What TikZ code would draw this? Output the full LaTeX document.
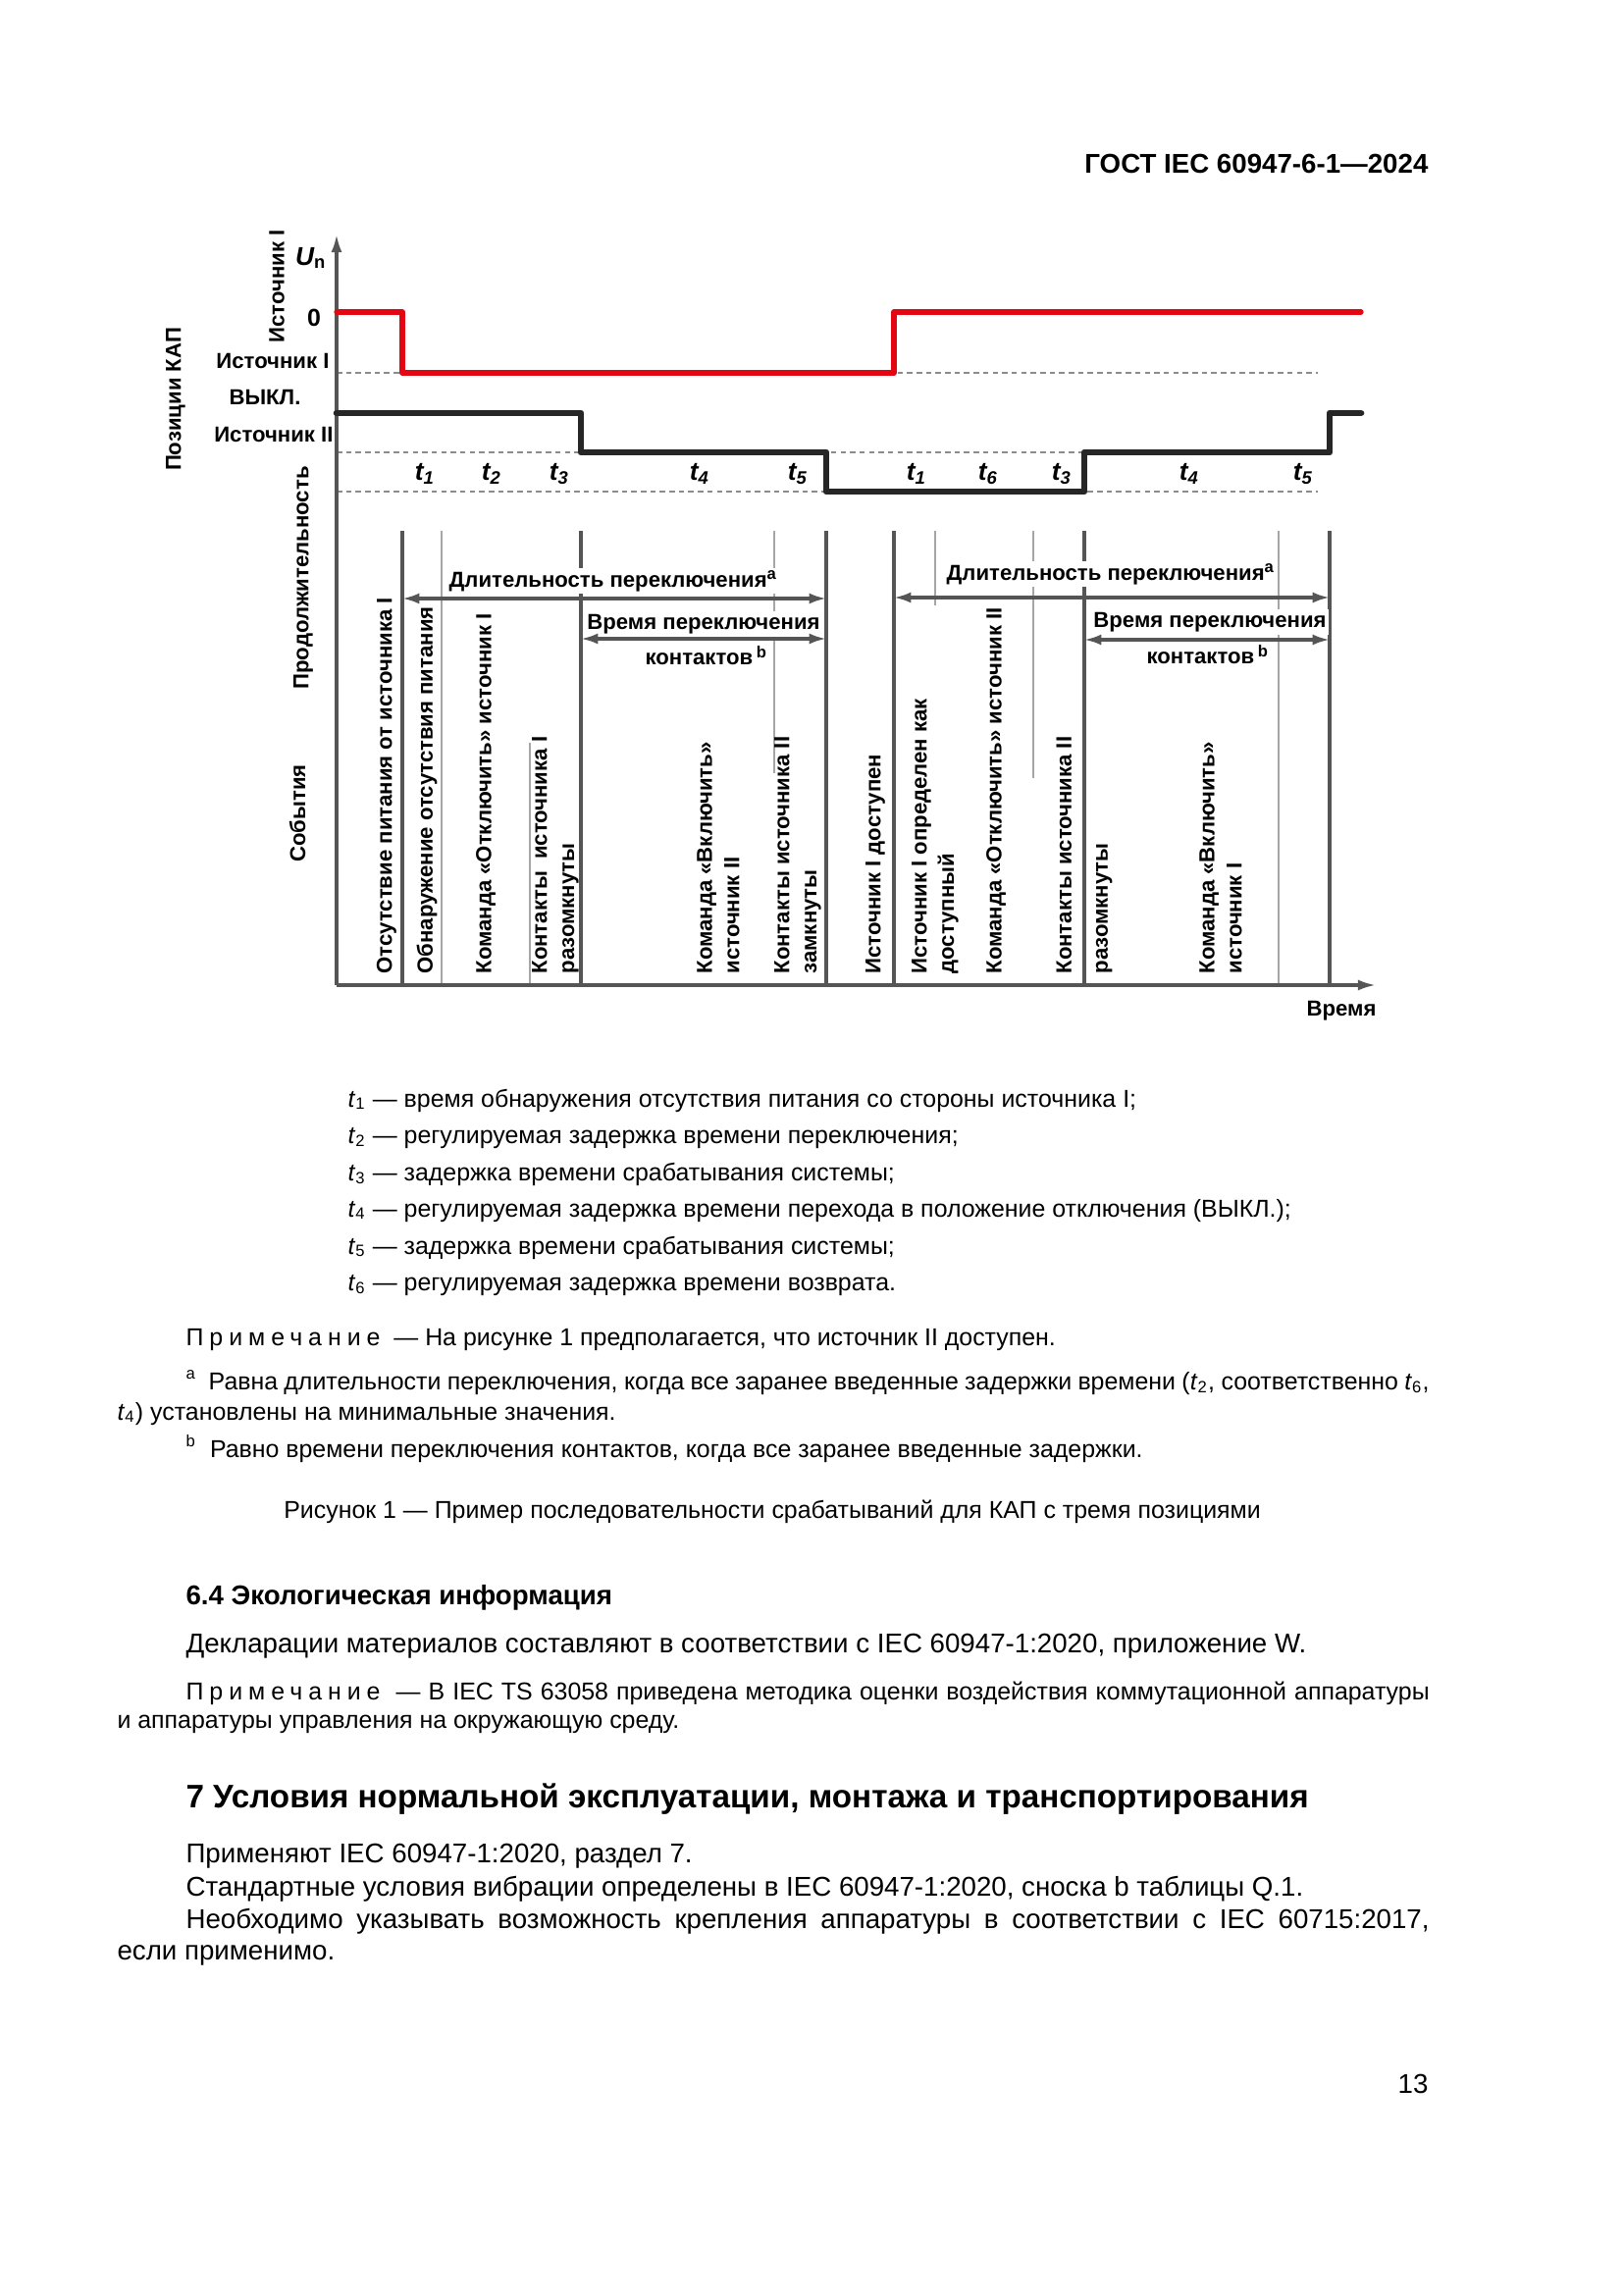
\documentclass[tikz,border=0pt]{standalone}
\usepackage{fontspec}
\setmainfont{Liberation Sans}
\usetikzlibrary{arrows.meta,positioning}
\definecolor{sourcered}{HTML}{E30613}
\definecolor{switchblack}{HTML}{262626}
\definecolor{linegray}{HTML}{555555}
\newcommand{\tlab}[1]{\textit{t}\textsubscript{#1}}
\newcommand{\spaced}[1]{{\addfontfeature{LetterSpace=24}#1}}

\begin{document}
\begin{tikzpicture}[x=0.12697mm, y=-0.12697mm,
    fig/.style={font=\bfseries\fontsize{8}{10}\selectfont, inner sep=0pt},
    event/.style={fig, rotate=90, anchor=west, align=left},
    tmark/.style={font=\bfseries\itshape\fontsize{9.5}{10}\selectfont, inner sep=0pt},
    dimtext/.style={fig, fill=white, inner sep=1pt},
    axis/.style={linegray, line width=1.1pt, -{Latex[length=2.3mm, width=1.4mm]}},
    major/.style={linegray, line width=1.1pt},
    minor/.style={black!35, line width=0.4pt},
    guide/.style={black!45, line width=0.4pt, dash pattern=on 2pt off 1.5pt},
    dim/.style={linegray, line width=1.1pt,
                {Latex[length=2.2mm, width=1.4mm]}-{Latex[length=2.2mm, width=1.4mm]}},
    body/.style={font=\fontsize{10}{12}\selectfont, inner sep=0pt, anchor=base west},
    small/.style={font=\fontsize{9}{11.2}\selectfont, inner sep=0pt, anchor=base west},
    legend/.style={font=\fontsize{9}{11}\selectfont, inner sep=0pt, anchor=base west},
    smallpara/.style={small, text width=169.76mm, align=justify},
    bodypara/.style={body, text width=169.76mm, align=justify},
    head/.style={font=\bfseries\fontsize{10}{12}\selectfont, inner sep=0pt, anchor=base west}
]
\fill[white] (0,0) rectangle (1654,2339);
\useasboundingbox (0,0) rectangle (1654,2339);

\node[font=\bfseries\fontsize{10}{12}\selectfont, inner sep=0pt, anchor=base east]
    (header) at (1456,176) {ГОСТ IEC 60947-6-1—2024};

% switch position levels
\draw[guide] (343,380) -- (1343,380);
\draw[guide] (343,461) -- (1343,461);
\draw[guide] (343,501) -- (1343,501);

% event lines
\draw[minor] (450,541) -- (450,1004);
\draw[minor] (540,757) -- (540,1004);
\draw[minor] (789,541) -- (789,788);
\draw[minor] (953,541) -- (953,617);
\draw[minor] (1053,541) -- (1053,793);
\draw[minor] (1303,541) -- (1303,1004);
\foreach \x in {410,592,842,911,1105,1355}
  \draw[major] (\x,541) -- (\x,1004);

\coordinate (origin) at (343,1004);
\coordinate (ytip) at (343,239);
\coordinate (xtip) at (1402,1004);
\draw[axis] (origin) -- (ytip);
\draw[axis] (origin) -- (xtip);

\draw[sourcered, line width=1.9pt, line cap=round, line join=round]
  (343,318) -- (410,318) -- (410,380) -- (911,380) -- (911,318) -- (1387,318);
\draw[switchblack, line width=2.4pt, line cap=round, line join=round]
  (343,421) -- (592,421) -- (592,461) -- (842,461) -- (842,501) -- (1105,501)
  -- (1105,461) -- (1355,461) -- (1355,421) -- (1387,421);

% axis labels
\node[fig, rotate=90] (positions) at (179,407) {Позиции КАП};
\node[fig, rotate=90] (srcaxis) at (282,292) {Источник I};
\node[tmark] (un) at (317,263) {U\textsubscript{\upshape n}};
\node[fig, font=\bfseries\fontsize{9}{10}\selectfont] (zero) at (320,324) {0};
\node[fig, anchor=east] (posI) at (336,368) {Источник I};
\node[fig] (posoff) at (270,405) {ВЫКЛ.};
\node[fig, anchor=east] (posII) at (340,443) {Источник II};
\node[fig, rotate=90] (duration) at (309,589) {Продолжительность};
\node[fig, rotate=90] (events) at (303,829) {События};
\node[fig] (timelabel) at (1367,1030) {Время};

% delays
\node[tmark] (ta1) at (433,483) {t\textsubscript{1}};
\node[tmark] (ta2) at (501,483) {t\textsubscript{2}};
\node[tmark] (ta3) at (570,483) {t\textsubscript{3}};
\node[tmark] (ta4) at (713,483) {t\textsubscript{4}};
\node[tmark] (ta5) at (813,483) {t\textsubscript{5}};
\node[tmark] (tb1) at (934,483) {t\textsubscript{1}};
\node[tmark] (tb6) at (1007,483) {t\textsubscript{6}};
\node[tmark] (tb3) at (1082,483) {t\textsubscript{3}};
\node[tmark] (tb4) at (1212,483) {t\textsubscript{4}};
\node[tmark] (tb5) at (1328,483) {t\textsubscript{5}};

% events
\node[event] (ev1) at (394,993) {Отсутствие питания от источника I};
\node[event] (ev2) at (435,993) {Обнаружение отсутствия питания};
\node[event] (ev3) at (495,993) {Команда «Отключить» источник I};
\node[event] (ev4) at (566,993) {Контакты\ \ источника I\\разомкнуты};
\node[event] (ev5) at (732,993) {Команда «Включить»\\источник II};
\node[event] (ev6) at (813,993) {Контакты источника II\\замкнуты};
\node[event] (ev7) at (892,993) {Источник I доступен};
\node[event] (ev8) at (953,993) {Источник I определен как\\доступный};
\node[event] (ev9) at (1015,993) {Команда «Отключить» источник II};
\node[event] (ev10) at (1105,993) {Контакты источника II\\[1.2mm]разомкнуты};
\node[event] (ev11) at (1244,993) {Команда «Включить»\\источник I};

% transfer times
\node[dimtext] (swItext) at (625,592) {Длительность переключения\textsuperscript{a}};
\node[dimtext] (ctItext) at (717,636) {Время переключения};
\node[fig] (ctIsub) at (720,668) {контактов\,\textsuperscript{b}};
\node[dimtext] (swIItext) at (1132,585) {Длительность переключения\textsuperscript{a}};
\node[dimtext] (ctIItext) at (1233,634) {Время переключения};
\node[fig] (ctIIsub) at (1231,667) {контактов\,\textsuperscript{b}};

\coordinate (swIa) at (410,610);
\coordinate (swIb) at (842,610);
\coordinate (ctIa) at (592,651);
\coordinate (ctIb) at (842,651);
\coordinate (swIIa) at (911,609);
\coordinate (swIIb) at (1355,609);
\coordinate (ctIIa) at (1105,652);
\coordinate (ctIIb) at (1355,652);
\draw[dim] (swIa) -- (swIb);
\draw[dim] (ctIa) -- (ctIb);
\draw[dim] (swIIa) -- (swIIb);
\draw[dim] (ctIIa) -- (ctIIb);

% key
\node[legend] (key1) at (354,1128) {\tlab{1} — время обнаружения отсутствия питания со стороны источника I;};
\node[legend] (key2) at (354,1165) {\tlab{2} — регулируемая задержка времени переключения;};
\node[legend] (key3) at (354,1203) {\tlab{3} — задержка времени срабатывания системы;};
\node[legend] (key4) at (354,1240) {\tlab{4} — регулируемая задержка времени перехода в положение отключения (ВЫКЛ.);};
\node[legend] (key5) at (354,1278) {\tlab{5} — задержка времени срабатывания системы;};
\node[legend] (key6) at (354,1315) {\tlab{6} — регулируемая задержка времени возврата.};

\node[small] (note1) at (189,1371) {\spaced{Примечание}\ \ — На рисунке 1 предполагается, что источник II доступен.};
\node[smallpara] (fna) at (119,1416) {\hspace*{8.89mm}\textsuperscript{a}\ \ Равна длительности переключения, когда все заранее введенные задержки времени (\tlab{2}, соответственно \tlab{6},\linebreak \tlab{4}) установлены на минимальные значения.};
\node[small] (fnb) at (189,1485) {\textsuperscript{b}\ \ Равно времени переключения контактов, когда все заранее введенные задержки.};
\node[small, anchor=base] (caption) at (787,1547) {Рисунок 1 — Пример последовательности срабатываний для КАП с тремя позициями};

% text below
\node[head] (sec64) at (189,1635) {6.4 Экологическая информация};
\node[body] (decl) at (189,1684) {Декларации материалов составляют в соответствии с IEC 60947-1:2020, приложение W.};
\node[smallpara, font=\fontsize{9}{10.8}\selectfont] (note2) at (119,1732) {\hspace*{8.89mm}\spaced{Примечание}\ \ — В IEC TS 63058 приведена методика оценки воздействия коммутационной аппаратуры\linebreak и аппаратуры управления на окружающую среду.};
\node[head, font=\bfseries\fontsize{12}{14}\selectfont] (sec7) at (189,1842) {7 Условия нормальной эксплуатации, монтажа и транспортирования};
\node[body] (apply) at (189,1898) {Применяют IEC 60947-1:2020, раздел 7.};
\node[body] (vibr) at (189,1932) {Стандартные условия вибрации определены в IEC 60947-1:2020, сноска b таблицы Q.1.};
\node[bodypara, font=\fontsize{10}{11.9}\selectfont] (mount) at (119,1965) {\hspace*{8.89mm}Необходимо указывать возможность крепления аппаратуры в соответствии с IEC 60715:2017,\linebreak если применимо.};

\node[body, anchor=base east] (pagenum) at (1456,2133) {13};
\end{tikzpicture}
\end{document}
